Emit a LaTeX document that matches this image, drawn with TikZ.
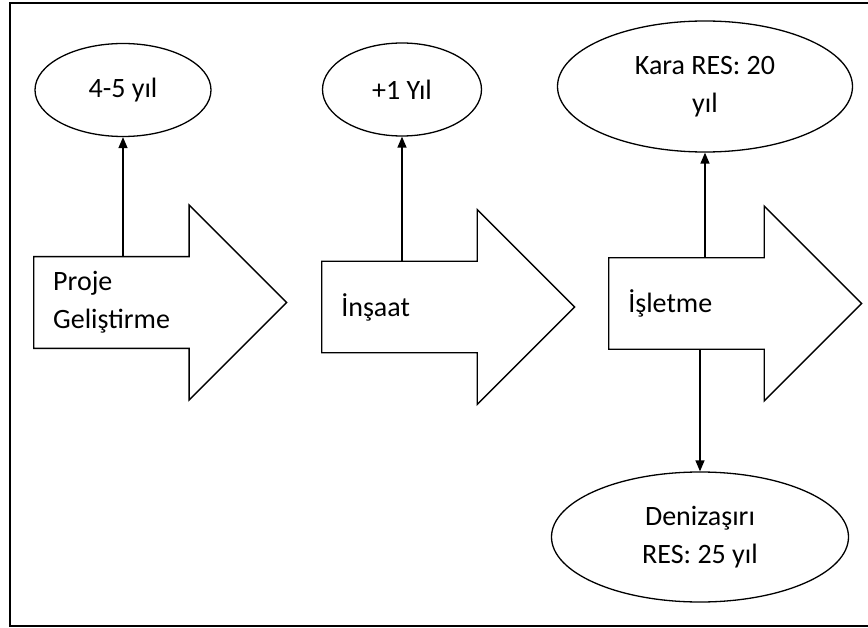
\documentclass[tikz,border=0pt]{standalone}
\usepackage{fontspec}
\setmainfont{Carlito}
\usetikzlibrary{
    arrows.meta,
    positioning,
    shapes.geometric,
    shapes.arrows
}

\begin{document}
\begin{tikzpicture}[
    x=1pt, y=-1pt,
    every node/.style={font=\fontsize{28}{38}\selectfont},
    stage/.style={single arrow, draw, line width=1.3pt, anchor=tail,
      single arrow head extend=48pt, minimum width=195pt,
      minimum height=253pt, text width=168pt, align=left,
      inner xsep=0pt, inner ysep=28pt},
    period/.style={ellipse, draw, line width=1.3pt, align=center, inner sep=0pt},
    link/.style={-{Triangle[length=11pt, width=9pt]}, line width=1.3pt},
    frame/.style={line width=2.6pt}
]
\useasboundingbox (0,0) rectangle (868,628);
\draw[frame] (868,3) -- (10,3) -- (10,626) -- (868,626);

\node[stage, inner ysep=11pt] (pg) at (33,302.5) {Proje\\Geliştirme};
\node[stage] (ins) at (321,307) {İnşaat};
\node[stage] (op) at (608,303.5) {İşletme};

\node[period, minimum width=176pt, minimum height=93pt] (pgyr) at (123,90) {4-5 yıl};
\node[period, minimum width=159pt, minimum height=93pt] (insyr) at (402,89.5) {+1 Yıl};
\node[period, minimum width=295pt, minimum height=131pt] (land) at (705,86.5) {Kara RES: 20\\yıl};
\node[period, minimum width=297pt, minimum height=130pt] (sea) at (700,537) {Denizaşırı\\RES: 25 yıl};

\draw[link] (pgyr.south |- pg.north) -- (pgyr.south);
\draw[link] (insyr.south |- ins.north) -- (insyr.south);
\draw[link] (land.south |- op.north) -- (land.south);
\draw[link] (sea.north |- op.south) -- (sea.north);
\end{tikzpicture}
\end{document}
